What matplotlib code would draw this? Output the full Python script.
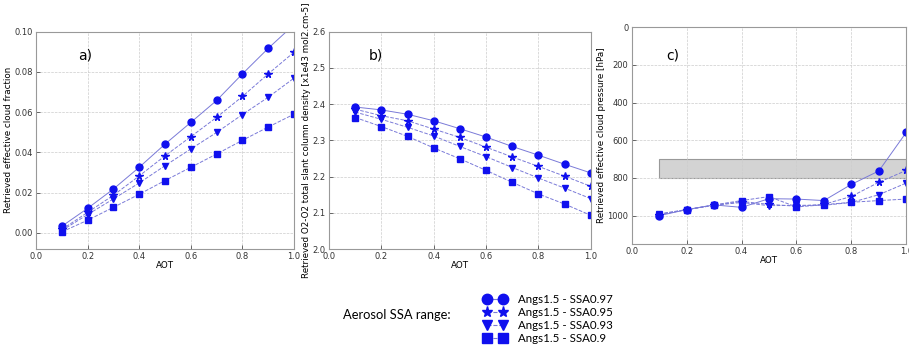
import matplotlib
matplotlib.use("Agg")
import matplotlib.pyplot as plt
from matplotlib.lines import Line2D
from matplotlib.patches import Rectangle

aot = [0.1, 0.2, 0.3, 0.4, 0.5, 0.6, 0.7, 0.8, 0.9, 1.0]
series_labels = ["Angs1.5 - SSA0.97", "Angs1.5 - SSA0.95", "Angs1.5 - SSA0.93", "Angs1.5 - SSA0.9"]

# a) effective cloud fraction
cf_097 = [0.0033, 0.0122, 0.0218, 0.0326, 0.0441, 0.0549, 0.0658, 0.0790, 0.0917, 0.1035]
cf_095 = [0.0017, 0.0102, 0.0187, 0.0283, 0.0383, 0.0478, 0.0574, 0.0678, 0.0790, 0.0898]
cf_093 = [0.0012, 0.0091, 0.0169, 0.0248, 0.0334, 0.0417, 0.0499, 0.0588, 0.0674, 0.0769]
cf_090 = [0.0005, 0.0063, 0.0127, 0.0192, 0.0260, 0.0326, 0.0392, 0.0460, 0.0526, 0.0590]

# b) O2-O2 slant column density
scd_097 = [2.392, 2.384, 2.372, 2.354, 2.332, 2.309, 2.283, 2.259, 2.234, 2.210]
scd_095 = [2.386, 2.368, 2.354, 2.331, 2.308, 2.281, 2.254, 2.228, 2.201, 2.173]
scd_093 = [2.378, 2.358, 2.336, 2.312, 2.283, 2.255, 2.225, 2.196, 2.168, 2.139]
scd_090 = [2.363, 2.338, 2.311, 2.279, 2.249, 2.217, 2.184, 2.152, 2.124, 2.093]

# c) effective cloud pressure
cp_097 = [1000, 968, 943, 956, 910, 912, 920, 834, 763, 558]
cp_095 = [995, 968, 945, 925, 940, 950, 940, 898, 823, 760]
cp_093 = [990, 968, 945, 930, 947, 945, 945, 930, 889, 827]
cp_090 = [995, 968, 943, 920, 899, 954, 942, 929, 920, 912]

band_low, band_high = 700, 800

markers = ["o", "*", "v", "s"]
msizes = [5, 5.5, 5, 5]
leg_msizes = [7.5, 8, 7.5, 7]
lstyles = ["-", "--", "--", "--"]
mcolor = "#1010ee"
lcolor = "#7a7ad8"

fig = plt.figure(figsize=(9.09, 3.52), dpi=100)

def style_ax(ax):
    ax.grid(True, linestyle="--", color="#cccccc", linewidth=0.5)
    for s in ax.spines.values():
        s.set_color("#999999")
        s.set_linewidth(0.8)
    ax.tick_params(labelsize=6, direction="in", length=3, pad=2.5, colors="#333333", width=0.5)
    ax.set_xlabel("AOT", fontsize=6.3, labelpad=0)
    ax.set_xlim(0.0, 1.0)
    ax.set_xticks([0.0, 0.2, 0.4, 0.6, 0.8, 1.0])

def plot_series(ax, data):
    for vals, m, ms, ls in zip(data, markers, msizes, lstyles):
        ax.plot(aot, vals, marker=m, markersize=ms, linestyle=ls, color=lcolor,
                linewidth=0.7, markerfacecolor=mcolor, markeredgecolor=mcolor, clip_on=True)

ax1 = fig.add_axes([0.0396, 0.2926, 0.2838, 0.6174])
plot_series(ax1, [cf_097, cf_095, cf_093, cf_090])
style_ax(ax1)
ax1.set_ylim(-0.008, 0.10)
ax1.set_yticks([0.00, 0.02, 0.04, 0.06, 0.08, 0.10])
ax1.set_ylabel("Retrieved effective cloud fraction", fontsize=6.3, labelpad=1)
ax1.text(0.19, 0.89, "a)", transform=ax1.transAxes, fontsize=10, ha="center", va="center")

ax2 = fig.add_axes([0.362, 0.2926, 0.288, 0.6174])
plot_series(ax2, [scd_097, scd_095, scd_093, scd_090])
style_ax(ax2)
ax2.set_ylim(2.0, 2.6)
ax2.set_yticks([2.0, 2.1, 2.2, 2.3, 2.4, 2.5, 2.6])
ax2.set_ylabel("Retrieved O2-O2 total slant column density [x1e43 mol2.cm-5]", fontsize=6.3, labelpad=1)
ax2.text(0.18, 0.89, "b)", transform=ax2.transAxes, fontsize=10, ha="center", va="center")

ax3 = fig.add_axes([0.695, 0.307, 0.302, 0.616])
ax3.add_patch(Rectangle((aot[0], band_low), aot[-1] - aot[0], band_high - band_low,
                        facecolor="#d3d3d3", edgecolor="#999999", linewidth=0.8, zorder=1))
plot_series(ax3, [cp_097, cp_095, cp_093, cp_090])
style_ax(ax3)
ax3.set_ylim(1150, 0)
ax3.set_yticks([0, 200, 400, 600, 800, 1000])
ax3.set_ylabel("Retrieved effective cloud pressure [hPa]", fontsize=6.3, labelpad=1)
ax3.text(0.15, 0.87, "c)", transform=ax3.transAxes, fontsize=10, ha="center", va="center")

handles = [Line2D([0], [0], marker=m, markersize=s, linestyle=ls, color=lcolor, linewidth=0.8,
                  markerfacecolor=mcolor, markeredgecolor=mcolor)
           for m, s, ls in zip(markers, leg_msizes, lstyles)]
fig.legend(handles, series_labels, loc="upper left", bbox_to_anchor=(0.5254, 0.18),
           frameon=False, numpoints=2, handlelength=2.0, handletextpad=1.0,
           labelspacing=0.15, borderpad=0, prop={"family": "Lato", "size": 8.3})
fig.text(0.377, 0.105, "Aerosol SSA range:", fontsize=9.3, family="Lato", va="center", ha="left")

fig.savefig("out.png", dpi=100)
